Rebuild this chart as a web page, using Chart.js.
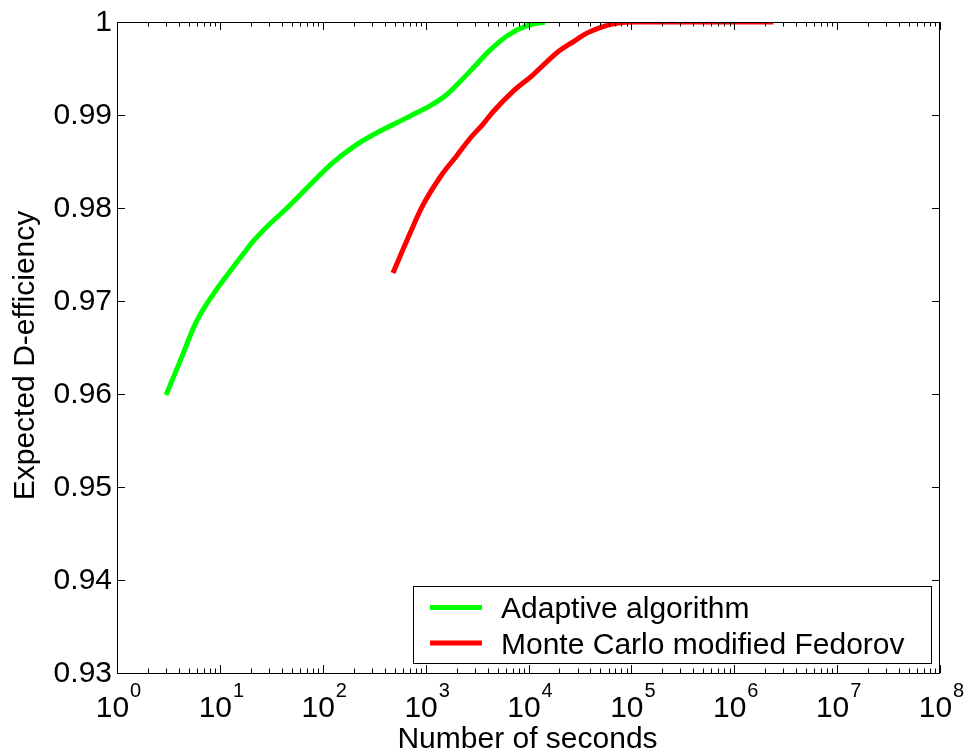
<!DOCTYPE html>
<html>
<head>
<meta charset="utf-8">
<script src="https://cdn.jsdelivr.net/npm/chart.js@4/dist/chart.umd.min.js"></script>
<style>
  html, body { margin: 0; padding: 0; background: #fff; }
  #wrap { width: 965px; height: 753px; }
</style>
</head>
<body>
<div id="wrap"><canvas id="effChart" width="965" height="753"></canvas></div>
<script>
// run time (s) vs expected D-efficiency
const adaptiveSeconds = [3.0, 4.2, 5.8, 8.7, 13.6, 17, 21, 30, 45, 82, 123, 200, 312, 490, 710, 1110, 1610, 2170, 2920, 4250, 6170, 9650, 14500];
const adaptiveEff = [0.9599, 0.9638, 0.9676, 0.9708, 0.9737, 0.9751, 0.9764, 0.9782, 0.9800, 0.9829, 0.9848, 0.9866, 0.9879, 0.9890, 0.9899, 0.9910, 0.9922, 0.9936, 0.9951, 0.9970, 0.9985, 0.9996, 1.0];

const fedorovSeconds = [481, 700, 920, 1440, 2000, 2710, 3600, 4570, 7150, 11000, 18900, 27400, 37000, 49700, 67000, 97000, 200000, 500000, 1000000, 2400000];
const fedorovEff = [0.9730, 0.9772, 0.9801, 0.9836, 0.9856, 0.9875, 0.9890, 0.9904, 0.9926, 0.9943, 0.9967, 0.9979, 0.9988, 0.9994, 0.9998, 1.0, 1.0, 1.0, 1.0, 1.0];

const seriesNames = ["Adaptive algorithm", "Monte Carlo modified Fedorov"];
const seriesColors = ["#00ff00", "#ff0000"];

// axis ticks
const yTicks = [0.93, 0.94, 0.95, 0.96, 0.97, 0.98, 0.99, 1];
const yTickLabels = ["0.93", "0.94", "0.95", "0.96", "0.97", "0.98", "0.99", "1"];
const xExponents = [0, 1, 2, 3, 4, 5, 6, 7, 8];

const xTitle = "Number of seconds";
const yTitle = "Expected D-efficiency";

const FONT = '"Liberation Sans", Arial, sans-serif';

const toPoints = (xs, ys) => xs.map((x, i) => ({ x: x, y: ys[i] }));

// matlab style axes: box, inward ticks, 10^n labels, boxed legend
const matlabAxes = {
  id: "matlabAxes",
  afterDraw(chart) {
    const { ctx, chartArea: a, scales } = chart;
    const xs = scales.x, ys = scales.y;
    ctx.save();
    ctx.strokeStyle = "#000";
    ctx.fillStyle = "#000";
    ctx.lineWidth = 1;

    // frame
    ctx.strokeRect(Math.round(a.left) + 0.5, Math.round(a.top) + 0.5,
      Math.round(a.right - a.left) - 1, Math.round(a.bottom - a.top));

    ctx.beginPath();
    // y ticks, both sides
    yTicks.forEach((v) => {
      const py = Math.round(ys.getPixelForValue(v)) + 0.5;
      ctx.moveTo(a.left, py); ctx.lineTo(a.left + 8, py);
      ctx.moveTo(a.right, py); ctx.lineTo(a.right - 8, py);
    });
    // x ticks, major and minor, top and bottom
    xExponents.forEach((e) => {
      const px = Math.round(xs.getPixelForValue(Math.pow(10, e))) + 0.5;
      ctx.moveTo(px, a.bottom); ctx.lineTo(px, a.bottom - 8);
      ctx.moveTo(px, a.top); ctx.lineTo(px, a.top + 8);
      if (e < xExponents[xExponents.length - 1]) {
        for (let m = 2; m <= 9; m++) {
          const mx = Math.round(xs.getPixelForValue(m * Math.pow(10, e))) + 0.5;
          ctx.moveTo(mx, a.bottom); ctx.lineTo(mx, a.bottom - 4.5);
          ctx.moveTo(mx, a.top); ctx.lineTo(mx, a.top + 4.5);
        }
      }
    });
    ctx.stroke();

    // y tick labels
    ctx.font = "30px " + FONT;
    ctx.textAlign = "right";
    ctx.textBaseline = "middle";
    yTicks.forEach((v, i) => {
      ctx.fillText(yTickLabels[i], a.left - 5, ys.getPixelForValue(v) + 1);
    });

    // x tick labels as 10 with superscript exponent
    ctx.textAlign = "left";
    ctx.textBaseline = "alphabetic";
    xExponents.forEach((e) => {
      const px = xs.getPixelForValue(Math.pow(10, e));
      ctx.font = "30px " + FONT;
      const wBase = ctx.measureText("10").width;
      ctx.font = "20px " + FONT;
      const wExp = ctx.measureText(String(e)).width;
      const x0 = px - (wBase + wExp) / 2 + 1;
      ctx.font = "30px " + FONT;
      ctx.fillText("10", x0, a.bottom + 44);
      ctx.font = "20px " + FONT;
      ctx.fillText(String(e), x0 + wBase + 1, a.bottom + 24);
    });

    // axis titles
    ctx.font = "30px " + FONT;
    ctx.textAlign = "center";
    ctx.fillText(xTitle, (a.left + a.right) / 2 - 1, 748);
    ctx.save();
    ctx.translate(34, (a.top + a.bottom) / 2 + 8);
    ctx.rotate(-Math.PI / 2);
    ctx.fillText(yTitle, 0, 0);
    ctx.restore();

    // legend box
    const box = { left: 413.5, top: 586.5, right: 931.5, bottom: 663.5 };
    ctx.fillStyle = "#fff";
    ctx.fillRect(box.left, box.top, box.right - box.left, box.bottom - box.top);
    ctx.strokeRect(box.left, box.top, box.right - box.left, box.bottom - box.top);
    const rows = [607.5, 643];
    chart.data.datasets.forEach((ds, i) => {
      ctx.strokeStyle = ds.borderColor;
      ctx.lineWidth = 5;
      ctx.beginPath();
      ctx.moveTo(430, rows[i]);
      ctx.lineTo(482, rows[i]);
      ctx.stroke();
      ctx.fillStyle = "#000";
      ctx.font = "30px " + FONT;
      ctx.textAlign = "left";
      ctx.textBaseline = "alphabetic";
      ctx.fillText(ds.label, 501, rows[i] + 10.5);
    });
    ctx.restore();
  },
};

const chart = new Chart(document.getElementById("effChart"), {
  type: "line",
  data: {
    datasets: [
      {
        label: seriesNames[0],
        data: toPoints(adaptiveSeconds, adaptiveEff),
        borderColor: seriesColors[0],
        borderWidth: 5,
        pointRadius: 0,
        cubicInterpolationMode: "monotone",
        clip: 0,
      },
      {
        label: seriesNames[1],
        data: toPoints(fedorovSeconds, fedorovEff),
        borderColor: seriesColors[1],
        borderWidth: 5,
        pointRadius: 0,
        cubicInterpolationMode: "monotone",
        clip: 0,
      },
    ],
  },
  options: {
    responsive: false,
    animation: false,
    layout: { padding: { left: 117, right: 25, top: 22, bottom: 80 } },
    plugins: {
      legend: { display: false },
      tooltip: { enabled: false },
    },
    scales: {
      x: { type: "logarithmic", min: 1, max: 1e8, display: false },
      y: { type: "linear", min: 0.93, max: 1, display: false },
    },
  },
  plugins: [matlabAxes],
});
</script>
</body>
</html>
